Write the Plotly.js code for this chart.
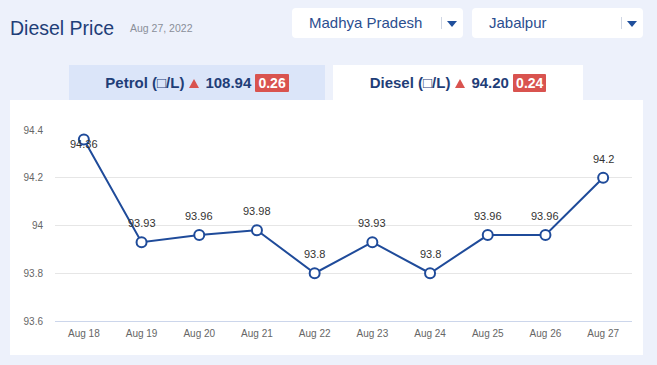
<!DOCTYPE html>
<html>
<head>
<meta charset="utf-8">
<script src="https://cdn.plot.ly/plotly-3.0.1.min.js"></script>
<style>
  html, body { margin:0; padding:0; width:657px; height:365px; overflow:hidden; background:#edf1fb; font-family:"Liberation Sans", Arial, sans-serif; }
  .abs { position:absolute; }
  #title { left:10px; top:17px; font-size:19.5px; color:#1f3e78; }
  #date { left:130px; top:22px; font-size:10.5px; color:#8a8f99; }
  .dd { background:#fff; border-radius:4px; height:30px; top:8px; width:171px; }
  .dd .lab { position:absolute; left:17px; top:6px; font-size:15px; color:#2b4e8f; }
  .dd .sep { position:absolute; top:9px; width:1px; height:12px; background:#cfd6e4; }
  .dd .car { position:absolute; top:13px; width:0; height:0; border-left:5px solid transparent; border-right:5px solid transparent; border-top:6px solid #1f4f9c; }
  .tab { top:65px; height:35px; text-align:center; line-height:35px; font-size:15px; font-weight:bold; color:#1f3e78; }
  .tri { display:inline-block; width:0; height:0; border-left:5px solid transparent; border-right:5px solid transparent; border-bottom:9px solid #d9534f; margin:0 6px 0 5px; vertical-align:0px; }
  .badge { background:#d9534f; color:#fff; padding:1px 3px; font-size:14px; border-radius:1px; }
  #panel { left:10px; top:100px; width:633px; height:255px; background:#fff; }
  #chart { left:0; top:0; width:657px; height:365px; }
</style>
</head>
<body>
<div id="title" class="abs">Diesel Price</div>
<div id="date" class="abs">Aug 27, 2022</div>
<div class="abs dd" style="left:292px;"><span class="lab">Madhya Pradesh</span><span class="sep" style="left:149px;"></span><span class="car" style="left:155px;"></span></div>
<div class="abs dd" style="left:472px;"><span class="lab">Jabalpur</span><span class="sep" style="left:149px;"></span><span class="car" style="left:155px;"></span></div>
<div class="abs tab" style="left:69px;width:256px;background:#dbe5f9;">Petrol (□/L)<span class="tri"></span>108.94 <span class="badge">0.26</span></div>
<div class="abs tab" style="left:333px;width:250px;background:#fff;">Diesel (□/L)<span class="tri"></span>94.20 <span class="badge">0.24</span></div>
<div id="panel" class="abs"></div>
<div id="chart" class="abs"></div>
<script>
const dates = ["Aug 18","Aug 19","Aug 20","Aug 21","Aug 22","Aug 23","Aug 24","Aug 25","Aug 26","Aug 27"];
const prices = [94.36, 93.93, 93.96, 93.98, 93.8, 93.93, 93.8, 93.96, 93.96, 94.2];
const labels = ["94.36","93.93","93.96","93.98","93.8","93.93","93.8","93.96","93.96","94.2"];

const trace = {
  x: dates, y: prices, type: "scatter", mode: "lines+markers",
  line: {color: "#1f4b9a", width: 2},
  marker: {symbol: "circle", size: 10, color: "#ffffff", line: {color: "#1f4b9a", width: 2}},
  cliponaxis: false, hoverinfo: "none"
};
const annotations = dates.map((d, i) => ({
  x: d, y: prices[i], xref: "x", yref: "y", text: labels[i], showarrow: false,
  yshift: i === 0 ? -4 : 19,
  font: {family: "Liberation Sans, Arial, sans-serif", size: 11, color: "#333333"}
}));
const layout = {
  width: 657, height: 365,
  margin: {l: 55, r: 25, t: 130, b: 44},
  paper_bgcolor: "rgba(0,0,0,0)", plot_bgcolor: "rgba(0,0,0,0)",
  showlegend: false,
  font: {family: "Liberation Sans, Arial, sans-serif"},
  annotations: annotations,
  xaxis: {type: "category", range: [-0.5, 9.5], showgrid: false, zeroline: false,
    showline: true, linecolor: "#ccd6eb", linewidth: 1, ticks: "", ticklabelstandoff: 3,
    tickfont: {size: 10, color: "#666666"}, fixedrange: true},
  yaxis: {range: [93.6, 94.4], dtick: 0.2, tick0: 93.6, showgrid: true, gridcolor: "#e6e6e6",
    zeroline: false, showline: false, ticks: "", ticklabelstandoff: 11,
    tickfont: {size: 10, color: "#666666"}, fixedrange: true}
};
Plotly.newPlot("chart", [trace], layout, {displayModeBar: false, staticPlot: true});
</script>
</body>
</html>
